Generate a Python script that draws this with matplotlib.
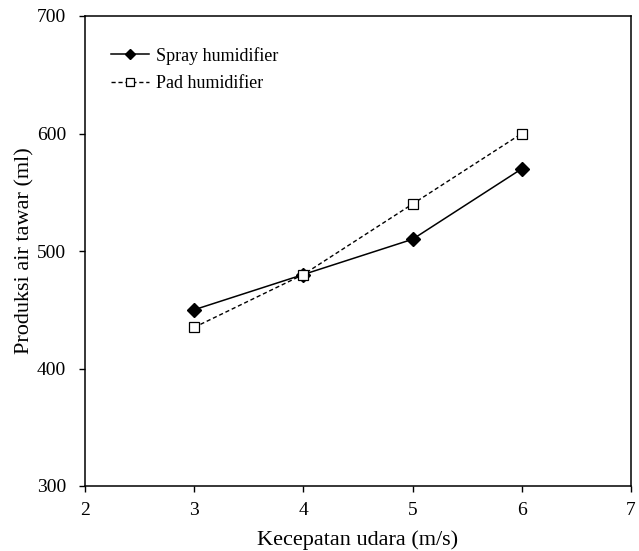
import numpy as np
import matplotlib.pyplot as plt

# Data
kecepatan = [3, 4, 5, 6]
spray = [450, 480, 510, 570]
pad = [435, 480, 540, 600]

plt.rcParams['font.family'] = ['Liberation Serif', 'DejaVu Serif']

fig = plt.figure(figsize=(6.39, 5.51), dpi=100)
ax = fig.add_axes([85/639, 1-486/551, (631-85)/639, (486-16)/551])

ax.plot(kecepatan, spray, '-', color='black', lw=1.1, marker='D',
        markersize=7, markerfacecolor='black', label='Spray humidifier')
ax.plot(kecepatan, pad, '--', color='black', lw=1.0, marker='s',
        markersize=7, markerfacecolor='white', markeredgewidth=0.9,
        dashes=(3, 2), label='Pad humidifier')

ax.set_xlim(2, 7)
ax.set_ylim(300, 700)
ax.set_xticks([2, 3, 4, 5, 6, 7])
ax.set_yticks([300, 400, 500, 600, 700])
ax.tick_params(direction='out', length=4.5, width=1, labelsize=14)
ax.tick_params(axis='y', pad=9)
ax.tick_params(axis='x', pad=7)
for s in ax.spines.values():
    s.set_linewidth(1.1)

ax.set_xlabel('Kecepatan udara (m/s)', fontsize=16, labelpad=8)
ax.set_ylabel('Produksi air tawar (ml)', fontsize=16, labelpad=2)

ax.legend(loc='upper left', frameon=False, fontsize=13, handlelength=2.1,
          handletextpad=0.4, labelspacing=0.6, markerscale=0.75,
          bbox_to_anchor=(0.035, 0.95), borderaxespad=0)

plt.savefig('out.png', dpi=100)
plt.close()
